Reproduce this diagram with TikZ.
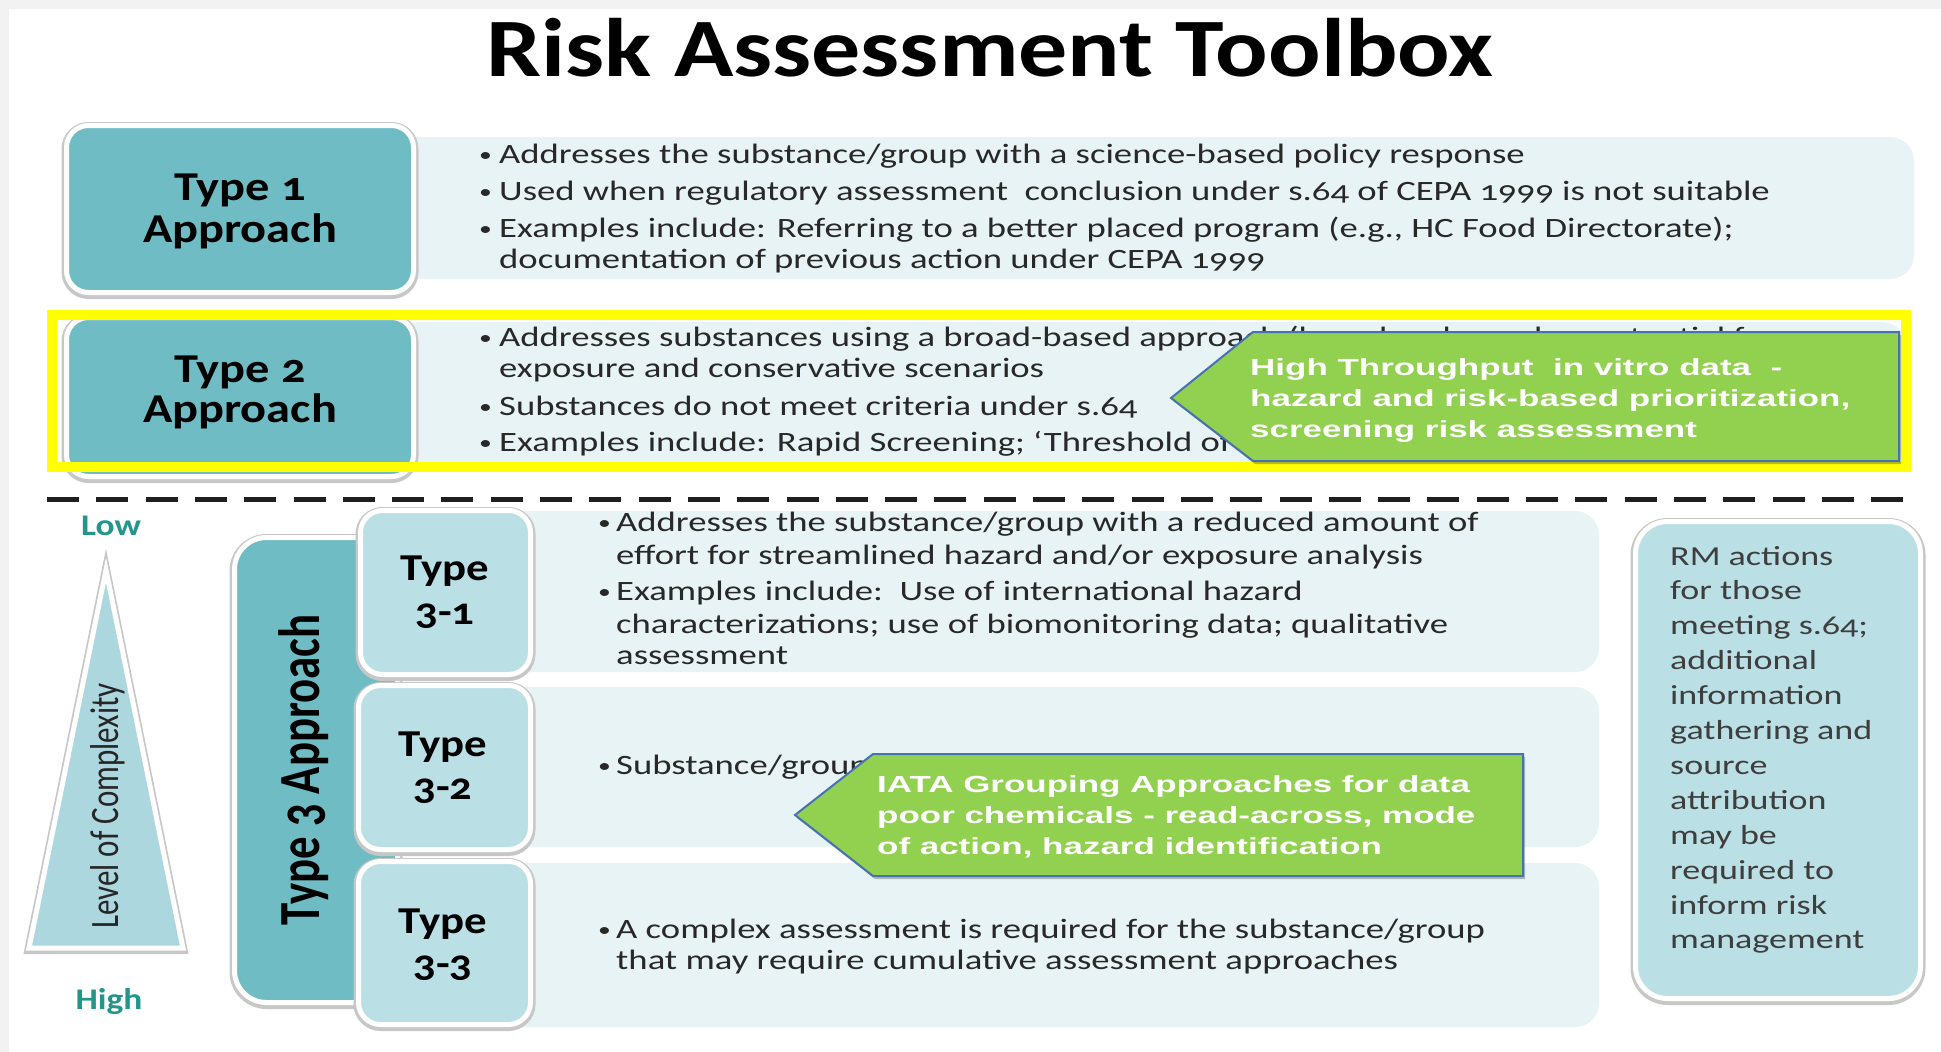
\documentclass[tikz,border=0pt]{standalone}
\usepackage{fontspec}
\usetikzlibrary{calc}
% type faces: a wide humanist sans for the body, bold labels, plain rotated labels, callout text
\newfontfamily\bodyfont{Carlito}[FakeStretch=1.31,Numbers=OldStyle]
\newfontfamily\labelfont{Carlito}[FakeStretch=1.18,Numbers=OldStyle]
\newfontfamily\upfont{Carlito}[Numbers=OldStyle]
\newfontfamily\calloutfont{Liberation Sans}[FakeStretch=1.5]

\definecolor{typeteal}{RGB}{111,188,197}
\definecolor{subteal}{RGB}{186,223,229}
\definecolor{triteal}{RGB}{172,215,223}
\definecolor{panelbg}{RGB}{231,243,245}
\definecolor{lowhigh}{RGB}{35,150,140}
\definecolor{callgreen}{RGB}{146,208,80}
\definecolor{callblue}{RGB}{70,114,180}
\definecolor{bodytext}{RGB}{40,40,40}
\definecolor{rmtext}{RGB}{62,62,62}
\definecolor{bandgray}{RGB}{242,242,242}

% small bullet set in a fixed-width slot
\newcommand\bulmark{\makebox[20pt][l]{\raisebox{1.5pt}{\scalebox{0.7}{•}}}}
\newcommand\bulmarkb{\makebox[18pt][l]{\raisebox{1.5pt}{\scalebox{0.7}{•}}}}

\begin{document}
\begin{tikzpicture}[x=1pt,y=-1pt,
  ringbox/.style={rectangle, rounded corners=22pt, draw=white, line width=5pt, inner sep=0pt,
    preaction={draw=black!22, line width=10pt, transform canvas={yshift=-1.5pt}}},
  panel/.style={rectangle, rounded corners=24pt, fill=panelbg, inner sep=0pt},
  lbl/.style={font=\labelfont\bfseries\fontsize{41pt}{41pt}\selectfont, inner sep=0pt, anchor=base},
  sublbl/.style={font=\labelfont\bfseries\fontsize{38pt}{38pt}\selectfont, inner sep=0pt, anchor=base},
  body/.style={font=\bodyfont\fontsize{28pt}{30pt}\selectfont, text=bodytext, inner sep=0pt, anchor=base west},
  rmline/.style={font=\bodyfont\fontsize{27.5pt}{30pt}\selectfont, text=rmtext, inner sep=0pt, anchor=base west},
  calltext/.style={font=\calloutfont\bfseries\fontsize{23.3pt}{26pt}\selectfont, text=white, inner sep=0pt, anchor=base west},
  callout/.style={fill=callgreen, draw=callblue, line width=2pt, line join=miter,
    preaction={fill=black, opacity=0.25, transform canvas={xshift=2pt,yshift=-3pt}}},
  levellbl/.style={font=\labelfont\bfseries\fontsize{30pt}{30pt}\selectfont, text=lowhigh, inner sep=0pt, anchor=base},
  dashline/.style={draw=black!88, line width=5pt, dash pattern=on 32pt off 17.3pt}
]
\useasboundingbox (0,0) rectangle (1941,1052);
\fill[white] (0,0) rectangle (1941,1052);
\fill[bandgray] (0,0) rectangle (1941,9);
\fill[bandgray] (0,0) rectangle (9,1052);

% title
\node[font=\labelfont\bfseries\fontsize{83pt}{83pt}\selectfont, inner sep=0pt, anchor=base] (title) at (990,76) {Risk Assessment Toolbox};

% ---- Type 1 and Type 2 rows ----
\node[panel, minimum width=1519pt, minimum height=142pt] (panel1) at (1154.5,208) {};
\node[panel, minimum width=1511pt, minimum height=140pt] (panel2) at (1150.5,392) {};

\node[ringbox, fill=typeteal, minimum width=347pt, minimum height=167pt] (type1) at (240,209) {};
\node[lbl] (type1a) at (240,200) {Type 1};
\node[lbl] (type1b) at (240,242) {Approach};

\node[ringbox, fill=typeteal, minimum width=347pt, minimum height=159pt] (type2) at (240,397) {};
\node[lbl] (type2a) at (240,382) {Type 2};
\node[lbl] (type2b) at (240,422) {Approach};

\node[body] (p1a) at (479,163) {\bulmark Addresses the substance/group with a science-based policy response};
\node[body] (p1b) at (479,200) {\bulmark Used when regulatory assessment\ \ conclusion under s.64 of CEPA 1999 is not suitable};
\node[body] (p1c) at (479,237) {\bulmark Examples include: Referring to a better placed program (e.g., HC Food Directorate);};
\node[body] (p1d) at (499,268) {documentation of previous action under CEPA 1999};

\node[body] (p2a) at (479,346) {\bulmark Addresses substances using a broad-based approach (based on hazard or potential for};
\node[body] (p2b) at (499,377) {exposure and conservative scenarios};
\node[body] (p2c) at (479,415) {\bulmark Substances do not meet criteria under s.64};
\node[body] (p2d) at (479,451) {\bulmark Examples include: Rapid Screening; ‘Threshold of Toxicological Concern’};

% highlight frame round the Type 2 row
\draw[draw={rgb,255:red,255;green,255;blue,0}, line width=10pt] (52,315) rectangle (1906,467);

% callout on the Type 2 row
\draw[callout] (1171,398) -- (1253,332) -- (1899,332) -- (1899,461) -- (1253,461) -- cycle;
\node[calltext] (c1a) at (1250,375) {High Throughput\ \ in vitro data\ \ -};
\node[calltext] (c1b) at (1250,406) {hazard and risk-based prioritization,};
\node[calltext] (c1c) at (1250,437) {screening risk assessment};

% separator
\coordinate (sepL) at (47,499);
\coordinate (sepR) at (1907,499);
\draw[dashline] (sepL) -- (sepR);

% ---- complexity scale ----
\node[levellbl] (low) at (111,535) {Low};
\node[levellbl] (high) at (109,1009) {High};
\coordinate (triTop) at (106,570);
\coordinate (triL) at (29,948);
\coordinate (triR) at (183,948);
\draw[fill=triteal, draw=white, line width=5pt, line join=miter,
  preaction={draw=black!22, line width=9pt, transform canvas={yshift=-1.5pt}}]
  (triTop) -- (triR) -- (triL) -- cycle;
\node[font=\upfont\fontsize{31pt}{31pt}\selectfont, text=black!85, inner sep=0pt, anchor=base, rotate=90] (complexity) at (118,806) {\scalebox{1}[1.3]{Level of Complexity}};

% ---- Type 3 block ----
\node[ringbox, rounded corners=32pt, fill=typeteal, minimum width=163pt, minimum height=465pt] (type3) at (316,770) {};
\node[font=\upfont\bfseries\fontsize{44.8pt}{44.8pt}\selectfont, inner sep=0pt, anchor=base, rotate=90] (type3lbl) at (319,770) {\scalebox{1}[1.3]{Type 3 Approach}};

\node[panel, minimum width=1099pt, minimum height=161pt] (panel31) at (1049.5,591.5) {};
\node[panel, minimum width=1099pt, minimum height=160pt] (panel32) at (1049.5,767) {};
\node[panel, minimum width=1099pt, minimum height=164pt] (panel33) at (1049.5,945) {};

\node[ringbox, fill=subteal, minimum width=170pt, minimum height=164pt] (type31) at (445.5,592.5) {};
\node[ringbox, fill=subteal, minimum width=172pt, minimum height=164pt] (type32) at (444.5,767.5) {};
\node[ringbox, fill=subteal, minimum width=172pt, minimum height=163pt] (type33) at (444.5,943) {};
\node[sublbl] (type31a) at (445,580) {Type};
\node[sublbl] (type31b) at (445,624) {3-1};
\node[sublbl] (type32a) at (443,756) {Type};
\node[sublbl] (type32b) at (443,799) {3-2};
\node[sublbl] (type33a) at (443,933) {Type};
\node[sublbl] (type33b) at (443,976) {3-3};

\node[body] (p31a) at (598,531) {\bulmarkb Addresses the substance/group with a reduced amount of};
\node[body] (p31b) at (616,564) {effort for streamlined hazard and/or exposure analysis};
\node[body] (p31c) at (598,600) {\bulmarkb Examples include:\ \ Use of international hazard};
\node[body] (p31d) at (616,633) {characterizations; use of biomonitoring data; qualitative};
\node[body] (p31e) at (616,664) {assessment};
\node[body] (p32a) at (598,774) {\bulmarkb Substance/group};
\node[body] (p33a) at (598,938) {\bulmarkb A complex assessment is required for the substance/group};
\node[body] (p33b) at (616,969) {that may require cumulative assessment approaches};

% callout on the Type 3-2 row
\draw[callout] (795,815) -- (873,754) -- (1523,754) -- (1523,876) -- (873,876) -- cycle;
\node[calltext] (c2a) at (877,792) {IATA Grouping Approaches for data};
\node[calltext] (c2b) at (877,823) {poor chemicals - read-across, mode};
\node[calltext] (c2c) at (877,854) {of action, hazard identification};

% ---- risk management box ----
\node[ringbox, rounded corners=32pt, fill=subteal, minimum width=285pt, minimum height=477pt] (rm) at (1778,760) {};
\foreach \k/\t in {0/RM actions, 1/for those, 2/meeting s.64;, 3/additional, 4/information,
  5/gathering and, 6/source, 7/attribution, 8/may be, 9/required to, 10/inform risk, 11/management}
  \node[rmline] (rm\k) at (1670,{565+34.9*\k}) {\t};
\end{tikzpicture}
\end{document}
